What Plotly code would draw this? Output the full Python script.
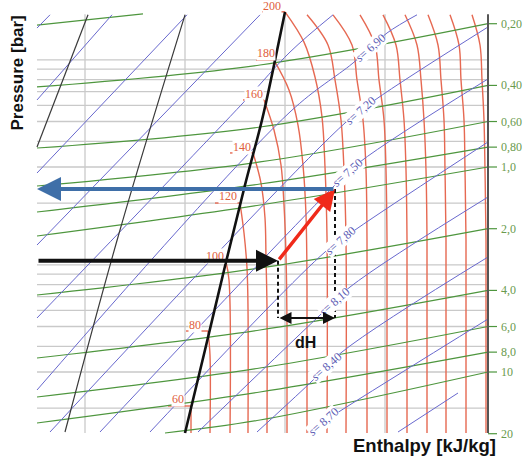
import numpy as np
import plotly.graph_objects as go

# ---------------- data (enthalpy h in kJ/kg, pressure p in bar) ----------------
h_min, h_max = 2304, 3206          # drawn frame of the diagram
p_min, p_max = 0.18, 19.85

grid_h = [2400, 2600, 2800, 3000]
grid_p = [0.300, 0.333, 0.375, 0.429, 0.500, 0.600, 0.750, 1.00, 1.50,
          3.00, 3.33, 3.75, 4.29, 5.00, 6.00, 7.50, 10.0, 15.0]

# isobars (green)
isobar_h = [[2304, 2516], [2304, 2750, 3206], [2304, 2750, 3206], [2304, 2750, 3206],
            [2304, 2750, 3206], [2304, 2750, 3206], [2304, 2750, 3206], [2304, 2750, 3206],
            [2304, 2750, 3206], [2304, 2750, 3206], [2560, 2750, 3206]]
isobar_p = [[0.203, 0.179], [0.407, 0.318, 0.20], [0.808, 0.638, 0.40], [1.238, 0.945, 0.60],
            [1.658, 1.210, 0.80], [2.171, 1.532, 1.0], [4.211, 3.109, 2.0], [8.545, 6.240, 4.0],
            [13.24, 9.561, 6.0], [17.73, 12.52, 8.0], [19.84, 17.15, 10.0]]
isobar_labels = ["0,20", "0,40", "0,60", "0,80", "1,0", "2,0", "4,0", "6,0", "8,0", "10", "20"]
isobar_label_p = [0.20, 0.40, 0.60, 0.80, 1.0, 2.0, 4.0, 6.0, 8.0, 10.0, 20.0]

# isentropes (blue)
isentrope_h = [[2304, 2330], [2304, 2454], [2304, 2604], [2304, 2750],
               [2304, 2716, 2810, 2896], [2304, 2810, 2936, 3004, 3064],
               [2330, 2920, 2980, 3206], [2430, 2900, 2950, 3206], [2530, 2880, 2940, 3206],
               [2626, 2866, 2930, 3206], [2744, 2850, 2914, 3206], [2846, 2904, 3206],
               [3026, 3146]]
isentrope_p = [[0.210, 0.181], [0.471, 0.181], [1.070, 0.181], [2.402, 0.181],
               [5.452, 0.487, 0.275, 0.181], [12.24, 0.539, 0.311, 0.222, 0.181],
               [19.62, 0.610, 0.471, 0.2075], [19.62, 1.224, 0.945, 0.372],
               [19.62, 2.598, 2.029, 0.755], [19.62, 5.391, 3.850, 1.401],
               [19.62, 11.32, 7.989, 2.748], [19.62, 15.85, 5.514], [19.62, 12.66]]
isentrope_labels = ["s= 6,90", "s= 7,20", "s= 7,50", "s= 7,80", "s= 8,10", "s= 8,40", "s= 8,70"]
isentrope_label_h = [2970, 2950, 2924, 2910, 2898, 2882, 2876]
isentrope_label_p = [0.263, 0.533, 1.070, 2.296, 4.556, 9.454, 17.53]

# isotherms (red), temperatures in degC
isotherm_T = [60, 80, 100, 120, 140, 160, 180, 200, 220, 240, 260, 280, 300, 320, 340, 360]
isotherm_h = [[2612, 2612], [2646, 2650, 2650], [2682, 2688, 2690],
              [2710, 2718, 2724, 2726, 2726], [2736, 2752, 2760, 2762, 2764, 2764],
              [2758, 2778, 2792, 2798, 2802, 2804, 2804],
              [2778, 2808, 2826, 2836, 2842, 2844, 2844],
              [2800, 2838, 2860, 2874, 2880, 2884, 2884],
              [2844, 2886, 2900, 2912, 2918, 2922, 2922], [2896, 2934, 2944, 2956, 2962, 2964, 2964],
              [2950, 2980, 2988, 2998, 3002, 3004, 3004], [2996, 3022, 3030, 3038, 3042, 3044, 3044],
              [3040, 3064, 3072, 3078, 3082, 3084, 3084], [3086, 3106, 3112, 3118, 3120, 3122, 3122],
              [3130, 3148, 3152, 3158, 3160, 3162, 3162], [3174, 3190, 3194, 3198, 3200, 3202, 3202]]
top_p = [0.181, 0.254, 0.376, 0.590, 1.034, 2.271, 19.85]
isotherm_p = [[14.65, 19.85], [6.310, 8.264, 19.85], [2.907, 3.558, 19.85],
              [1.499, 2.099, 3.109, 4.874, 19.85], [0.854, 1.197, 1.774, 2.779, 4.874, 19.85],
              [0.471, 0.660, 0.978, 1.533, 2.687, 5.898, 19.85],
              [0.301, 0.421, 0.624, 0.978, 1.715, 3.764, 19.85],
              [0.175, 0.246, 0.364, 0.570, 1.000, 2.195, 19.85],
              top_p, top_p, top_p, top_p, top_p, top_p, top_p, top_p]
# labelled isotherm start on the saturation line: underline start + label position
temp_labels = ["60", "80", "100", "120", "140", "160", "180", "200"]
underline_h = [2566, 2602, 2638, 2660, 2690, 2716, 2742, 2754]
temp_label_h = [2586, 2620, 2660, 2686, 2714, 2738, 2762, 2774]
temp_label_p = [13.54, 5.898, 2.718, 1.385, 0.799, 0.440, 0.278, 0.164]

# black lines
sat_h = [2600, 2640, 2682, 2720, 2754, 2776, 2800]
sat_p = [19.85, 7.809, 2.907, 1.224, 0.590, 0.336, 0.1754]
liq_a_h, liq_a_p = [2304, 2406], [0.799, 0.181]
liq_b_h, liq_b_p = [2360, 2470, 2600], [19.62, 2.029, 0.181]

# process
process_h = [2786, 2900]
process_p = [2.87, 1.28]
dh_p = 5.45
dh_label = (2840, 7.14)

# ---------------- styles ----------------
GRID = "#c9c9c9"
RED = "rgb(230,105,82)"
GREEN = "rgb(78,150,62)"
BLUE = "rgb(104,104,206)"
SERIF = "Liberation Serif"
SANS = "Liberation Sans"
NARROW = "Liberation Sans Narrow, Liberation Sans"

fig = go.Figure()


def line(h, p, color, width, dash=None, shape="linear"):
    fig.add_trace(go.Scatter(x=h, y=p, mode="lines",
                             line=dict(color=color, width=width, dash=dash, shape=shape),
                             hoverinfo="skip", showlegend=False))


for gp in grid_p:
    line([h_min, h_max], [gp, gp], GRID, 1.3)
for gh in grid_h:
    line([gh, gh], [p_min, p_max], GRID, 1.3)

for T, hh, pp in zip(isotherm_T, isotherm_h, isotherm_p):
    line(hh, pp, RED, 1.4, shape="spline")
for i, lab in enumerate(temp_labels):
    line([underline_h[i], isotherm_h[i][0]], [isotherm_p[i][0]] * 2, RED, 1.4)

for hh, pp in zip(isobar_h, isobar_p):
    line(hh, pp, GREEN, 1.2, shape="spline")
for lp in isobar_label_p:
    line([h_max, h_max + 18], [lp, lp], GREEN, 1.2)

for hh, pp in zip(isentrope_h, isentrope_p):
    line(hh, pp, BLUE, 1.0, shape="spline")

line(liq_a_h, liq_a_p, "#3a3a3a", 1.2)
line(liq_b_h, liq_b_p, "#3a3a3a", 1.2, shape="spline")
line(sat_h, sat_p, "#111111", 2.6, shape="spline")
line([h_max, h_max], [p_min, p_max], "#555555", 2.0)

# dashed verticals for dH
for hx, px in zip(process_h, process_p):
    line([hx, hx], [px, dh_p], "#111111", 2.0, dash="4px,3px")

ann = []
for lab, px in zip(isobar_labels, isobar_label_p):
    ann.append(dict(x=h_max + 22, y=np.log10(px), text=lab, showarrow=False, xanchor="left",
                    font=dict(family=SERIF, size=12, color="#6a9a4e")))
for lab, hx, px in zip(isentrope_labels, isentrope_label_h, isentrope_label_p):
    ann.append(dict(x=hx, y=np.log10(px), text="<i>s</i>" + lab[1:], showarrow=False,
                    textangle=-41, bgcolor="white", borderpad=0,
                    font=dict(family=SERIF, size=12, color="#5c5cb4")))
for lab, hx, px in zip(temp_labels, temp_label_h, temp_label_p):
    ann.append(dict(x=hx, y=np.log10(px), text=lab, showarrow=False, bgcolor="white",
                    borderpad=0, font=dict(family=SERIF, size=12, color="#e0603c")))

h1, h2 = process_h
p1, p2 = process_p
arrow = dict(xref="x", yref="y", axref="x", ayref="y", text="", showarrow=True, standoff=0)
ann.append(dict(arrow, x=h1, y=np.log10(p1), ax=h_min, ay=np.log10(p1),
                arrowhead=2, arrowsize=1.1, arrowwidth=4, arrowcolor="#111111"))
ann.append(dict(arrow, x=h2, y=np.log10(p2), ax=h1, ay=np.log10(p1),
                arrowhead=2, arrowsize=1.2, arrowwidth=3.5, arrowcolor="#f02a1a"))
ann.append(dict(arrow, x=h_min, y=np.log10(p2), ax=h2, ay=np.log10(p2),
                arrowhead=2, arrowsize=1.2, arrowwidth=4, arrowcolor="#3f6fa8"))
ann.append(dict(arrow, x=h2, y=np.log10(dh_p), ax=h1, ay=np.log10(dh_p), arrowside="end+start",
                arrowhead=2, arrowsize=1.2, arrowwidth=2, arrowcolor="#111111"))
ann.append(dict(x=dh_label[0], y=np.log10(dh_label[1]), text="<b>dH</b>", showarrow=False,
                font=dict(family=SANS, size=16, color="#111111")))

ann.append(dict(xref="paper", yref="paper", x=0.0335, y=0.841, xanchor="center", yanchor="middle",
                text="<b>Pressure [bar]</b>", textangle=-90, showarrow=False,
                font=dict(family=NARROW, size=17, color="#111111")))
ann.append(dict(xref="paper", yref="paper", x=0.812, y=0.002, xanchor="center", yanchor="bottom",
                text="<b>Enthalpy [kJ/kg]</b>", showarrow=False,
                font=dict(family=SANS, size=18.5, color="#111111")))

fig.update_layout(
    width=523, height=459, margin=dict(l=0, r=0, t=0, b=0),
    paper_bgcolor="white", plot_bgcolor="white",
    xaxis=dict(range=[2230, 3276], visible=False),
    yaxis=dict(type="log", range=[1.42439, -0.81463], visible=False),
    annotations=ann,
)

fig.write_html("out.html", config={"displayModeBar": False},
               post_script="document.body.style.margin='0';document.body.style.overflow='hidden';")
